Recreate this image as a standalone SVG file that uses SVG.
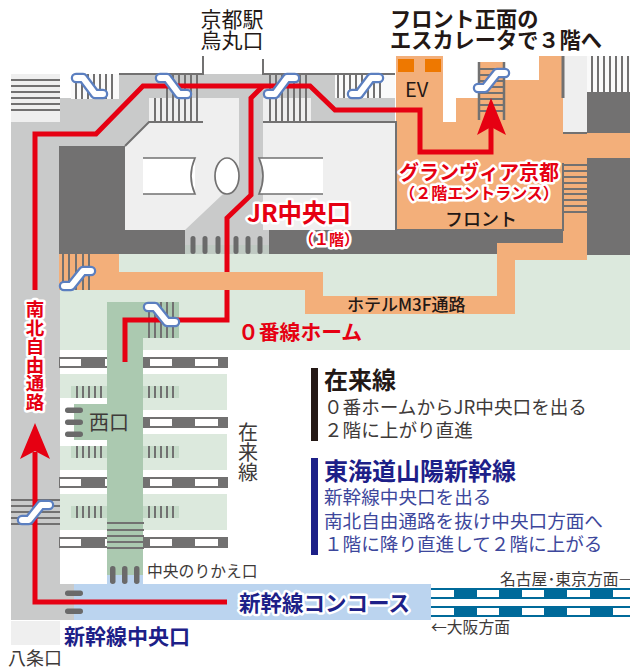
<svg xmlns="http://www.w3.org/2000/svg" width="630" height="669" viewBox="0 0 630 669">
<style>
text{font-family:"Noto Sans CJK JP","Noto Sans",sans-serif;fill:#231815}
.r{fill:none;stroke:#E60012;stroke-width:5}
.rh{fill:#E60012}
.rg{stroke:#727171;stroke-width:2;fill:none}
.d{fill:#727171}
.w{fill:#fff}
.p{fill:#6A6A6A}
.e1{fill:none;stroke:#5B7FC0;stroke-width:10.5;stroke-linecap:round;stroke-linejoin:round}
.e2{fill:none;stroke:#fff;stroke-width:6;stroke-linecap:round;stroke-linejoin:round}
.halo{paint-order:stroke;stroke:#fff;stroke-width:5px;stroke-linejoin:round}
.red{fill:#E60012;font-weight:700}
.navy{fill:#1D2088;font-weight:700}
.sub{fill:#3D479C;font-size:18.600px}
.body{fill:#3E3A39;font-size:18.600px}
.t{font-size:15.800px;fill:#3E3A39}
</style>
<g id="ground">
<rect x="11" y="74" width="49" height="48" fill="#EFEFEF"/>
<rect x="11" y="621" width="49" height="24" fill="#EFEFEF"/>
<path fill="#C9CACA" d="M11 122H60V98H119V74H395V230H269V254H185V230H125V146H60V584H74V620H11Z"/>
<rect x="71" y="74" width="48" height="25" fill="#FAFAFA"/>
<rect x="335" y="74" width="60" height="24" fill="#FAFAFA"/>
<path fill="#EFEFEF" d="M125 146L149 122V98H239V178L222 195L185 230H125Z"/>
<rect x="263" y="98" width="48" height="24" fill="#EFEFEF"/>
<rect x="263" y="122" width="133" height="108" fill="#EFEFEF"/>
<path class="d" d="M59 146H125V230H185V254H59Z"/>
<rect x="185" y="245" width="84" height="9" fill="#BFC9C2"/>
<rect x="60" y="254" width="570" height="96" fill="#DCE9DD"/>
<rect x="60" y="374" width="47" height="24" fill="#DCE9DD"/>
<rect x="60" y="446" width="47" height="24" fill="#DCE9DD"/>
<rect x="60" y="494" width="47" height="36" fill="#DCE9DD"/>
<rect x="143" y="374" width="84" height="36" fill="#DCE9DD"/>
<rect x="143" y="434" width="84" height="36" fill="#DCE9DD"/>
<rect x="143" y="494" width="84" height="36" fill="#DCE9DD"/>
<rect x="74" y="404" width="33" height="36" fill="#ABC9B0"/>
<rect x="563" y="56" width="24" height="77" fill="#EFEFEF"/>
<rect x="587" y="56" width="43" height="36" fill="#FAFAFA"/>
<rect x="587" y="92" width="43" height="41" class="d"/>
<rect x="587" y="158" width="43" height="97" class="d"/>
<path class="d" d="M269 230H563V243H497V254H269Z"/>
<path fill="#F3AF7A" d="M396 56H443V122H456V98H478V62H505V80H539V56H563V133H630V158H587V260H515V314H305V290H59V254H119V272H323V296H497V243H563V230H396Z"/>
<rect x="143" y="158" width="52" height="36" class="w"/>
<path d="M143 158H195Q187 176 195 194H143" fill="#fff" stroke="#727171" stroke-width="1.700"/>
<path d="M259 158H323V194H259Q267 176 259 158Z" fill="#fff"/>
<path d="M323 158H259Q267 176 259 194H323" fill="none" stroke="#727171" stroke-width="1.700"/>
<ellipse cx="227" cy="176" rx="12" ry="18" fill="#fff" stroke="#727171" stroke-width="1.700"/>
<path class="rg" d="M119 74H203V56M263 59V74H395M125 146L149 122H203M263 122H396V230H563V163"/>
<path d="M563 56V98" stroke="#727171" stroke-width="3"/>
<path d="M563 133H587" stroke="#727171" stroke-width="2"/>
<rect x="107" y="302" width="72" height="36" fill="#ABC9B0"/>
<rect x="107" y="338" width="36" height="237" fill="#ABC9B0"/>
<rect x="107" y="575" width="36" height="9" fill="#BBD4EF"/>
<rect x="71" y="386" width="36" height="12" fill="#C5DAC8"/>
<rect x="71" y="446" width="36" height="12" fill="#C5DAC8"/>
<rect x="71" y="506" width="36" height="12" fill="#C5DAC8"/>
<rect x="143" y="386" width="36" height="12" fill="#C5DAC8"/>
<rect x="143" y="446" width="36" height="12" fill="#C5DAC8"/>
<rect x="143" y="506" width="36" height="12" fill="#C5DAC8"/>
<rect x="74" y="584" width="357" height="36" fill="#BBD4EF"/>
</g>
<g id="zairai-tracks">
<path class="d" d="M59 357H107V368H59ZM143 357H228V368H143ZM143 417H228V428H143ZM59 477H107V488H59ZM143 477H228V488H143ZM59 537H107V548H59ZM143 537H228V548H143Z"/>
<g class="w">
<path d="M60 359H81V366H60ZM105 359H107V366H105ZM150 359H172V366H150ZM195 359H218V366H195Z"/>
<path d="M150 419H172V426H150ZM195 419H218V426H195Z"/>
<path d="M60 479H81V486H60ZM105 479H107V486H105ZM150 479H172V486H150ZM195 479H218V486H195Z"/>
<path d="M60 539H81V546H60ZM105 539H107V546H105ZM150 539H172V546H150ZM195 539H218V546H195Z"/>
</g>
</g>
<g id="stairs">
<path class="rg" d="M11 80H60M11 86H60M11 92H60M11 98H60M11 104H60M11 110H60"/>
<path class="rg" d="M76 74V99M82 74V99M88 74V99M94 74V99M100 74V99M106 74V99M112 74V99"/>
<path class="rg" d="M155 98V122M161 98V122M167 74V122M173 74V122M179 74V122M185 74V122M191 74V122M197 74V122"/>
<path class="rg" d="M270 74V122M276 74V122M282 74V122M288 74V122M294 74V122M300 74V122M306 74V122"/>
<path class="rg" d="M338 74V98M344 74V98M350 74V98M356 74V98M362 74V98M368 74V98M374 74V98M380 74V98"/>
<path class="rg" d="M592 56V92M598 56V92M604 56V92M610 56V92M616 56V92M622 56V92M628 56V92"/>
<path d="M479 62V120M504 62V120" stroke="#727171" stroke-width="2.500"/>
<path class="rg" d="M479 69H504M479 75H504M479 81H504M479 87H504M479 93H504M479 99H504M479 105H504M479 111H504"/>
<path class="rg" d="M563 165H587M563 171H587M563 177H587M563 183H587M563 189H587M563 194H587M563 200H587M563 206H587M563 212H587"/>
<path class="rg" d="M63 254V290M69 254V290M76 254V290M83 254V290M89 254V290"/>
<path class="rg" d="M149 302V338M155 302V338M161 302V338M167 302V338M173 302V338"/>
<path class="rg" d="M77 386V398M83 386V398M89 386V398M95 386V398M101 386V398M149 386V398M155 386V398M161 386V398M167 386V398M173 386V398"/>
<path class="rg" d="M77 446V458M83 446V458M89 446V458M95 446V458M101 446V458M149 446V458M155 446V458M161 446V458M167 446V458M173 446V458"/>
<path class="rg" d="M77 506V518M83 506V518M89 506V518M95 506V518M101 506V518M149 506V518M155 506V518M161 506V518M167 506V518M173 506V518"/>
<path class="rg" d="M107 523H144M107 530H144M107 536H144M107 542H144M107 548H144"/>
<path class="rg" d="M11 500H60M11 506H60M11 512H60M11 518H60M11 524H60"/>
</g>
<g id="gates" class="p">
<rect x="190.500" y="236" width="5" height="18" rx="2.500"/><rect x="202.500" y="236" width="5" height="18" rx="2.500"/><rect x="215.500" y="236" width="5" height="18" rx="2.500"/><rect x="233.500" y="236" width="5" height="18" rx="2.500"/><rect x="245.500" y="236" width="5" height="18" rx="2.500"/><rect x="257.500" y="236" width="5" height="18" rx="2.500"/>
<rect x="110" y="566" width="5.500" height="18" rx="2.700"/><rect x="122" y="566" width="5.500" height="18" rx="2.700"/><rect x="134" y="566" width="5.500" height="18" rx="2.700"/>
<rect x="65" y="407.500" width="18" height="5.500" rx="2.700"/><rect x="65" y="419.500" width="18" height="5.500" rx="2.700"/><rect x="65" y="431.500" width="18" height="5.500" rx="2.700"/>
<rect x="65" y="590.500" width="18" height="5.500" rx="2.700"/><rect x="65" y="608.500" width="18" height="5.500" rx="2.700"/>
</g>
<g id="shinkansen-tracks">
<rect x="431" y="588" width="199" height="11" fill="#006A9A"/>
<rect x="431" y="606" width="199" height="11" fill="#006A9A"/>
<path class="w" d="M431 590H454V597H431ZM477 590H499V597H477ZM522 590H544V597H522ZM567 590H590V597H567ZM613 590H630V597H613ZM431 608H454V615H431ZM477 608H499V615H477ZM522 608H544V615H522ZM567 608H590V615H567ZM613 608H630V615H613Z"/>
</g>
<g id="connectors">
<path class="r" d="M227 602H35V452"/>
<path class="rh" d="M35 423L50 459L35 451L20 459Z"/>
<path class="r" d="M35 290V134H96L143 86H310L335 110H420V152H491V125"/>
<path class="rh" d="M491 98L506 135L491 127L477 135Z"/>
<path class="r" d="M125 362V320H227V290M227 272V218L251 195V98L263 86"/>
</g>
<g id="escalators">
<path class="e1" d="M76 78H83L95 94H103M160 78H167L179 94H187M268 94H275L287 78H295M352 94H359L371 78H379M478 88H485L497 73H505M64 286H71L83 271H91M148 307H155L167 322H175M22 520H29L41 505H49"/>
<path class="e2" d="M76 78H83L95 94H103M160 78H167L179 94H187M268 94H275L287 78H295M352 94H359L371 78H379M478 88H485L497 73H505M64 286H71L83 271H91M148 307H155L167 322H175M22 520H29L41 505H49"/>
</g>
<g id="ev">
<rect x="398" y="59" width="16" height="13" fill="#EE7800"/>
<rect x="425" y="59" width="16" height="13" fill="#EE7800"/>
<text x="405" y="97" font-size="20">EV</text>
</g>
<g id="labels">
<text x="232" y="27" font-size="21" text-anchor="middle">京都駅</text>
<text x="232" y="48" font-size="21" text-anchor="middle">烏丸口</text>
<text x="390" y="27" font-size="21.200" font-weight="700">フロント正面の</text>
<text x="390" y="48" font-size="21.200" font-weight="700">エスカレータで３階へ</text>
<text x="479" y="180" font-size="20" text-anchor="middle" class="red halo">グランヴィア京都</text>
<text x="479" y="199" font-size="16" text-anchor="middle" class="red halo">（２階エントランス）</text>
<text x="481" y="226" font-size="18" font-weight="500" text-anchor="middle">フロント</text>
<text x="247" y="222" font-size="24.500" class="red halo">JR中央口</text>
<text x="329" y="245" font-size="15" text-anchor="middle" class="red halo">（１階）</text>
<text x="347" y="311" font-size="17" font-weight="500">ホテルM3F通路</text>
<text x="238" y="340" font-size="20.800" class="red">０番線ホーム</text>
<text x="35" y="300" font-size="18.500" class="red halo" style="writing-mode:vertical-rl">南北自由通路</text>
<text x="89" y="430" font-size="20" style="fill:#3E3A39">西口</text>
<text x="248" y="422" font-size="20" style="writing-mode:vertical-rl;fill:#3E3A39">在来線</text>
<text x="147" y="577" font-size="15.800" style="fill:#3E3A39">中央のりかえ口</text>
<text x="239" y="611" font-size="21.500" class="navy halo">新幹線コンコース</text>
<text x="64" y="644" font-size="21" class="navy">新幹線中央口</text>
<text x="8" y="665" font-size="18" style="fill:#3E3A39">八条口</text>
<text x="500" y="585" class="t">名古屋･東京方面―</text>
<text x="431" y="633" class="t">←大阪方面</text>
</g>
<g id="legend">
<rect x="311" y="368" width="7" height="73" fill="#231815"/>
<text x="324" y="389" font-size="24" font-weight="700">在来線</text>
<text x="324" y="414" class="body">０番ホームからJR中央口を出る</text>
<text x="324" y="437" class="body">２階に上がり直進</text>
<rect x="311" y="458" width="7" height="97" fill="#1D2088"/>
<text x="324" y="480" font-size="24" class="navy">東海道山陽新幹線</text>
<text x="324" y="504" class="sub">新幹線中央口を出る</text>
<text x="324" y="528" class="sub">南北自由通路を抜け中央口方面へ</text>
<text x="324" y="551" class="sub">１階に降り直進して２階に上がる</text>
</g>
</svg>
